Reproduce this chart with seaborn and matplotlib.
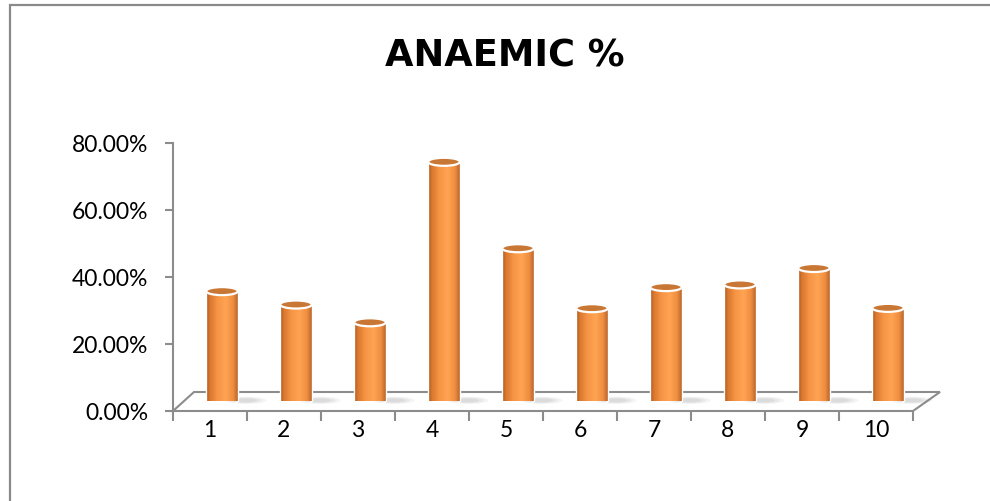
import numpy as np
import pandas as pd
import matplotlib
matplotlib.use("Agg")
import matplotlib.pyplot as plt
import seaborn as sns
from matplotlib.patches import Ellipse, Polygon, Rectangle
from matplotlib.colors import LinearSegmentedColormap
from matplotlib.ticker import PercentFormatter, FixedLocator

# ---- data ----
categories = ["1", "2", "3", "4", "5", "6", "7", "8", "9", "10"]
anaemic = [0.328, 0.288, 0.235, 0.714, 0.456, 0.277, 0.340, 0.348, 0.397, 0.278]
title_text = "ANAEMIC %"
y_ticks = [0.0, 0.2, 0.4, 0.6, 0.8]

df = pd.DataFrame({"group": categories, "value": anaemic})

sns.set_theme(style="white")
plt.rcParams["font.family"] = ["Lato", "DejaVu Sans"]

W, H = 990, 502
fig = plt.figure(figsize=(W / 100, H / 100), dpi=100)
fig.patch.set_facecolor("white")

# axes geometry (pixels)
ax_l, ax_r, ax_b, ax_t = 173, 913, 90, 358
dx, dy = 12, 10  # 3D depth shift of the bars (to mid depth)

ax1 = fig.add_axes([ax_l / W, ax_b / H, (ax_r - ax_l) / W, (ax_t - ax_b) / H])
ax2 = fig.add_axes([(ax_l + dx) / W, (ax_b + dy) / H, (ax_r - ax_l) / W, (ax_t - ax_b) / H])
ax1.set_zorder(1)
ax2.set_zorder(3)
ax2.patch.set_alpha(0)

# outer chart border
fig.add_artist(Rectangle((10 / W, -0.05), 1.2, (H - 6) / H + 0.05, transform=fig.transFigure,
                         fill=False, edgecolor="#8A8A8A", linewidth=1.6, zorder=0))

# floor (3D base)
floor = Polygon([(ax_l, ax_b), (ax_r, ax_b), (940, ax_b + 19), (194, ax_b + 19)],
                closed=True, transform=None, facecolor="white", edgecolor="#8C8C8C",
                linewidth=1.5, zorder=2)
fig.add_artist(floor)

# ---- bars ----
sns.barplot(data=df, x="group", y="value", ax=ax2, color="#F79646", width=0.43,
            saturation=1, edgecolor="none")
ax2.set_xlim(-0.5, len(categories) - 0.5)
ax2.set_ylim(0, 0.8)
ax2.axis("off")

cmap = LinearSegmentedColormap.from_list("cyl", [
    (0.0, "#A4521B"), (0.12, "#D9782F"), (0.35, "#F59444"),
    (0.62, "#FFA452"), (0.85, "#EE8E40"), (1.0, "#B9642A")])
grad = np.linspace(0, 1, 256).reshape(1, -1)
ell_h = 0.024

for p in list(ax2.patches):
    x0, w, h = p.get_x(), p.get_width(), p.get_height()
    xc = x0 + w / 2
    p.set_facecolor("none")
    # shadow on floor (to the right of the cylinder foot)
    for k, a in enumerate([0.08, 0.10, 0.12]):
        sh = Ellipse((xc + w * 0.75, 0.002), w * (1.3 - 0.3 * k), ell_h * (0.9 - 0.2 * k),
                     facecolor="#7F7F7F", edgecolor="none", alpha=a, zorder=1, clip_on=False)
        ax2.add_patch(sh)
    # bottom rounded part
    bot = Ellipse((xc, 0), w, ell_h, facecolor="none", edgecolor="white", linewidth=1.0,
                  zorder=2.1, clip_on=False)
    ax2.add_patch(bot)
    im_b = ax2.imshow(grad, cmap=cmap, extent=(x0, x0 + w, -ell_h, ell_h), aspect="auto", zorder=2)
    im_b.set_clip_path(bot)
    im_b.set_clip_box(None)
    # body
    body = Rectangle((x0, 0), w, h, facecolor="none", edgecolor="none", zorder=3, clip_on=False)
    ax2.add_patch(body)
    im = ax2.imshow(grad, cmap=cmap, extent=(x0, x0 + w, 0, h), aspect="auto", zorder=3)
    im.set_clip_path(body)
    im.set_clip_box(None)
    ax2.plot([x0, x0], [0, h], color="white", lw=1.0, zorder=4, solid_capstyle="butt", clip_on=False)
    ax2.plot([x0 + w, x0 + w], [0, h], color="white", lw=1.0, zorder=4, solid_capstyle="butt",
             clip_on=False)
    # top cap
    top = Ellipse((xc, h), w, ell_h, facecolor="#C97734", edgecolor="white", linewidth=1.6,
                  zorder=5, clip_on=False)
    ax2.add_patch(top)

ax2.set_xlim(-0.5, len(categories) - 0.5)
ax2.set_ylim(0, 0.8)

# ---- front axes ----
ax1.patch.set_alpha(0)
ax1.set_xlim(-0.5, len(categories) - 0.5)
ax1.set_ylim(0, 0.8)
for s in ["top", "right"]:
    ax1.spines[s].set_visible(False)
ax1.spines["left"].set_color("#8C8C8C")
ax1.spines["left"].set_linewidth(1.5)
ax1.spines["bottom"].set_visible(False)
ax1.set_yticks(y_ticks)
ax1.yaxis.set_major_formatter(PercentFormatter(1.0, decimals=2))
ax1.tick_params(axis="y", length=6, width=1.5, color="#8C8C8C", labelsize=16.5,
                labelcolor="black", pad=12, left=True)
ax1.set_xticks(range(len(categories)))
ax1.set_xticklabels(categories)
ax1.xaxis.set_minor_locator(FixedLocator(np.arange(-0.5, len(categories), 1.0)))
ax1.tick_params(axis="x", which="major", length=0, labelsize=16.5, labelcolor="black", pad=6)
ax1.tick_params(axis="x", which="minor", length=7, width=1.5, color="#8C8C8C", bottom=True)
ax1.set_xlabel("")
ax1.set_ylabel("")
ax1.grid(False)

fig.text(505 / W, 1 - 56 / H, title_text, ha="center", va="center",
         fontsize=26.5, fontweight="bold", family=["DejaVu Sans"], color="black")

fig.savefig("out.png", dpi=100)
